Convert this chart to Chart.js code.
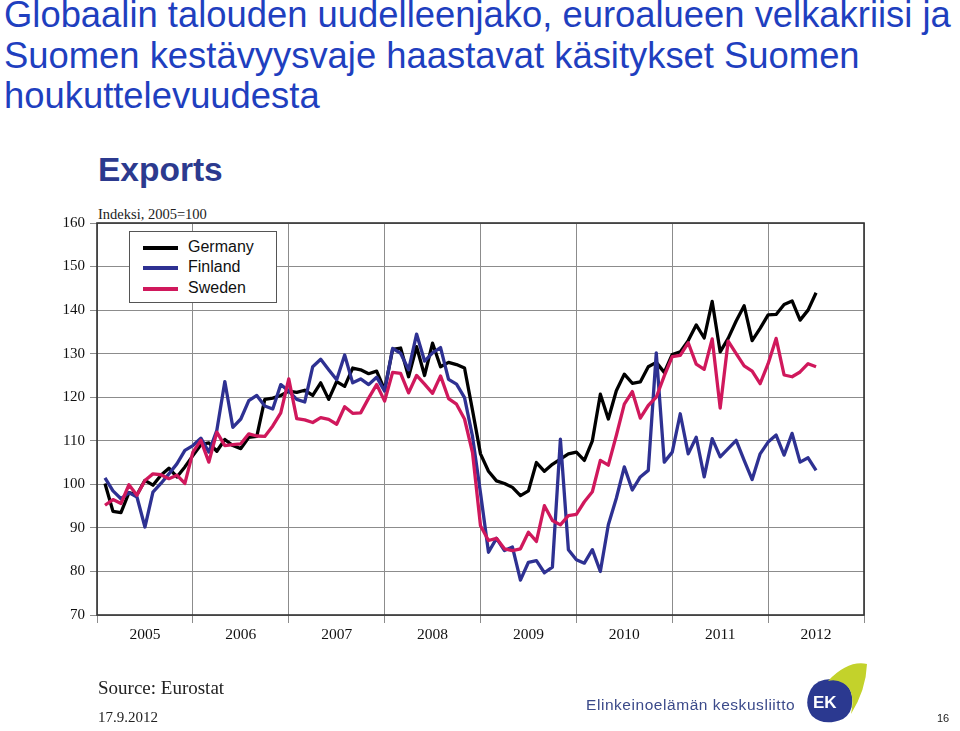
<!DOCTYPE html>
<html>
<head>
<meta charset="utf-8">
<script src="https://cdn.jsdelivr.net/npm/chart.js@4.4.0/dist/chart.umd.min.js"></script>
<style>
  body { margin:0; width:960px; height:731px; overflow:hidden; background:#fff; position:relative; }
  .t { position:absolute; white-space:nowrap; line-height:1; }
  #title { left:4px; top:-5px; font-family:"Liberation Sans",Arial,sans-serif; font-size:36.4px; line-height:40.5px; color:#1f3fbf; }
  #exports { left:98px; top:152.5px; font-family:"Liberation Sans",Arial,sans-serif; font-weight:bold; font-size:33.5px; color:#2c3a8e; }
  #unit { left:98px; top:207px; font-family:"Liberation Serif","Times New Roman",serif; font-size:14.5px; color:#222; }
  #source { left:98px; top:678px; font-family:"Liberation Serif","Times New Roman",serif; font-size:19px; color:#222; }
  #date { left:98px; top:710px; font-family:"Liberation Serif","Times New Roman",serif; font-size:15px; color:#222; }
  #org { left:586px; top:697px; font-family:"Liberation Sans",Arial,sans-serif; font-size:15.5px; letter-spacing:0.55px; color:#3b4a8a; }
  #page { left:937px; top:712.5px; font-family:"Liberation Sans",Arial,sans-serif; font-size:11px; color:#222; }
  #legend { position:absolute; left:129px; top:231px; width:146px; height:70px; border:1px solid #555; background:#fff; }
  .row { position:absolute; left:0; height:20px; width:146px; }
  .row span.ln { position:absolute; left:13px; top:8px; width:35px; height:4px; }
  .row span.lb { position:absolute; left:58px; top:1px; font-family:"Liberation Sans",Arial,sans-serif; font-size:16px; line-height:1; color:#111; }
  canvas { position:absolute; left:0; top:0; }
  svg { position:absolute; left:800px; top:660px; }
</style>
</head>
<body>
<div id="title" class="t">Globaalin talouden uudelleenjako, euroalueen velkakriisi ja<br>Suomen kestävyysvaje haastavat käsitykset Suomen<br>houkuttelevuudesta</div>
<div id="exports" class="t">Exports</div>
<div id="unit" class="t">Indeksi, 2005=100</div>
<canvas id="exportschart" width="960" height="731"></canvas>
<div id="legend"></div>
<div id="source" class="t">Source: Eurostat</div>
<div id="date" class="t">17.9.2012</div>
<div id="org" class="t">Elinkeinoelämän keskusliitto</div>
<svg width="70" height="66" viewBox="800 660 70 66">
  <path d="M811 689 Q803 704 812 716 Q824 727 843 719 Q854 712 852 696 Q849 680 831 679 Q817 679 811 689 Z" fill="#2b3990"/>
  <path d="M828 681 Q848 660 867 664 Q866 690 851 714 Q856 690 843 683 Q836 679 828 681 Z" fill="#c3d22b"/>
  <text x="813" y="708" font-family="Liberation Sans, Arial, sans-serif" font-weight="bold" font-size="17" fill="#fff">EK</text>
</svg>
<div id="page" class="t">16</div>
<script>
// monthly export index, 2005=100, Jan 2005 .. Jun 2012
var firstYear = 2005;
var yearLabels = [2005, 2006, 2007, 2008, 2009, 2010, 2011, 2012];
var seriesNames = ['Germany', 'Finland', 'Sweden'];
var seriesColors = ['#000000', '#2e3192', '#d0185c'];

var germany = [100.2, 93.8, 93.5, 98.1, 97.6, 100.9, 99.8, 102.1, 103.7, 101.7, 104, 106.6,
  109.1, 109.5, 107.6, 110.3, 108.9, 108.2, 110.8, 111, 119.5, 119.8, 120.4, 121.4,
  121.1, 121.6, 120.4, 123.3, 119.5, 123.6, 122.5, 126.7, 126.3, 125.4, 126, 121.7,
  131, 131.3, 124.7, 131.6, 125, 132.4, 127, 128, 127.5, 126.7, 117, 107,
  103, 100.8, 100.2, 99.3, 97.4, 98.5, 105, 103, 104.6, 105.8, 107, 107.4,
  105.5, 110, 120.7, 115, 121.5, 125.3, 123.2, 123.5, 127, 128, 125.7, 129.8,
  130.4, 133, 136.6, 133.6, 142, 130.4, 133.5, 137.5, 141, 133, 135.8, 138.9,
  139, 141.3, 142.1, 137.7, 140, 144];

var finland = [101.5, 98.5, 96.7, 98.1, 97.1, 90.2, 98.2, 100.2, 102.4, 104.7, 107.8, 108.9,
  110.6, 107.4, 112.4, 123.6, 113.1, 115, 119.2, 120.4, 118, 117.3, 122.9, 121.4,
  119.5, 118.9, 127, 128.7, 126.3, 124, 129.7, 123.3, 124.2, 122.9, 124.6, 121.4,
  131.2, 130.1, 126.3, 134.5, 128.3, 130.2, 131.4, 124.1, 123, 119.9, 111, 98,
  84.4, 87.6, 84.8, 85.6, 78, 82.1, 82.5, 79.7, 81, 110.4, 85, 82.7,
  81.9, 85, 80, 90.7, 96.8, 104, 98.7, 101.7, 103.2, 130.2, 105.1, 107.4,
  116.2, 107, 110.8, 101.7, 110.5, 106.3, 108.2, 110.1, 105.5, 101.1, 107, 109.7,
  111.3, 106.7, 111.7, 105.1, 106.1, 103.2];

var sweden = [95.2, 96.5, 95.6, 99.9, 97.5, 100.9, 102.4, 102.2, 101.3, 102.1, 100.2, 107.4,
  110.1, 105.1, 112, 108.9, 109.1, 109.3, 111.6, 111.1, 111, 113.4, 116.4, 124.2,
  115.1, 114.8, 114.2, 115.3, 114.9, 113.8, 117.8, 116.3, 116.4, 119.8, 122.9, 119.1,
  125.7, 125.5, 121, 125, 123, 120.9, 124.9, 119.7, 118.4, 115, 107.3, 90.5,
  87.1, 87.6, 85.2, 84.8, 85.2, 89, 86.9, 95.1, 91.7, 90.7, 92.8, 93.1,
  96, 98.3, 105.5, 104.4, 111.2, 118.4, 121.3, 115.2, 118.1, 120, 124.9, 129.3,
  129.6, 132.5, 127.6, 126.4, 133.4, 117.5, 132.9, 130, 127.2, 126, 123.1, 127.7,
  133.5, 125.1, 124.7, 125.8, 127.7, 127];

// each value sits at the end of its month
function toPoints(arr) {
    return arr.map(function(v, i) { return {x: firstYear + (i + 1) / 12, y: v}; });
}

var legend = document.getElementById('legend');
seriesNames.forEach(function(name, i) {
    var row = document.createElement('div');
    row.className = 'row';
    row.style.top = (5.5 + i * 20.5) + 'px';
    row.innerHTML = '<span class="ln" style="background:' + seriesColors[i] + '"></span><span class="lb">' + name + '</span>';
    legend.appendChild(row);
});

var gridCol = '#8c8c8c';
function yearGrid(c) {
    if (!c.tick) return gridCol;
    return Number.isInteger(c.tick.value) ? gridCol : 'rgba(0,0,0,0)';
}

var frame = {
    id: 'frame',
    afterDraw: function(chart) {
        var a = chart.chartArea, ctx = chart.ctx;
        ctx.save();
        ctx.strokeStyle = '#333';
        ctx.lineWidth = 1.6;
        ctx.strokeRect(a.left, a.top, a.right - a.left, a.bottom - a.top);
        ctx.restore();
    }
};

var ctx = document.getElementById('exportschart').getContext('2d');
window.exportschart = new Chart(ctx, {
    type: 'line',
    data: {
        datasets: [germany, finland, sweden].map(function(arr, i) {
            return {
                label: seriesNames[i],
                data: toPoints(arr),
                borderColor: seriesColors[i],
                backgroundColor: seriesColors[i],
                borderWidth: 3.3,
                pointRadius: 0,
                tension: 0,
                borderJoinStyle: 'round',
                order: 2 - i
            };
        })
    },
    options: {
        responsive: false,
        animation: false,
        layout: { padding: { top: 223, right: 96, bottom: 76, left: 0 } },
        plugins: { legend: { display: false }, title: { display: false }, tooltip: { enabled: false } },
        scales: {
            x: {
                type: 'linear',
                min: 2005,
                max: 2013,
                afterBuildTicks: function(s) {
                    var t = [];
                    for (var y = 2005; y <= 2013; y++) {
                        t.push({value: y});
                        if (yearLabels.indexOf(y) >= 0) t.push({value: y + 0.5});
                    }
                    s.ticks = t;
                },
                afterFit: function(s) { s.height = 40; },
                grid: { color: yearGrid, tickColor: yearGrid, lineWidth: 1, tickLength: 8 },
                border: { display: false },
                ticks: {
                    autoSkip: false,
                    maxRotation: 0,
                    padding: 3,
                    color: '#111',
                    font: { family: 'Liberation Serif', size: 15.5 },
                    callback: function(v) { return Number.isInteger(v) ? '' : String(Math.floor(v)); }
                }
            },
            y: {
                min: 70,
                max: 160,
                afterFit: function(s) { s.width = 97; },
                grid: { color: gridCol, lineWidth: 1, tickLength: 7 },
                border: { display: false },
                ticks: {
                    stepSize: 10,
                    padding: 5,
                    color: '#111',
                    font: { family: 'Liberation Serif', size: 15 }
                }
            }
        }
    },
    plugins: [frame]
});
</script>
</body>
</html>
